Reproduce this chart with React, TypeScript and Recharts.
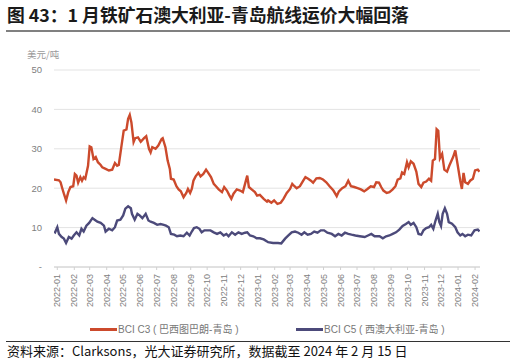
import React from "react";
import { LineChart, Line, XAxis, YAxis, CartesianGrid } from "recharts";

// BCI C3 巴西图巴朗-青岛 (美元/吨)
const c3Series: [string, number][] = [
  ["2021-12-26", 22.2], ["2022-01-04", 22.0], ["2022-01-07", 21.5], ["2022-01-10", 20.0],
  ["2022-01-13", 18.6], ["2022-01-17", 16.9], ["2022-01-21", 19.0], ["2022-01-25", 20.3],
  ["2022-01-30", 20.5], ["2022-02-02", 23.6], ["2022-02-05", 23.2], ["2022-02-08", 21.4],
  ["2022-02-12", 22.8], ["2022-02-15", 21.9], ["2022-02-18", 22.8], ["2022-02-21", 22.4],
  ["2022-02-26", 25.7], ["2022-03-01", 30.6], ["2022-03-04", 30.4], ["2022-03-08", 27.4],
  ["2022-03-12", 27.9], ["2022-03-16", 26.6], ["2022-03-21", 25.9], ["2022-03-24", 25.3],
  ["2022-03-30", 24.9], ["2022-04-05", 24.5], ["2022-04-11", 24.7], ["2022-04-16", 26.4],
  ["2022-04-20", 25.7], ["2022-04-23", 25.9], ["2022-04-28", 30.8], ["2022-05-02", 34.6],
  ["2022-05-07", 34.9], ["2022-05-10", 37.6], ["2022-05-13", 38.6], ["2022-05-16", 36.7],
  ["2022-05-20", 31.7], ["2022-05-23", 32.7], ["2022-05-28", 32.9], ["2022-06-02", 31.8],
  ["2022-06-08", 32.7], ["2022-06-12", 33.2], ["2022-06-17", 30.0], ["2022-06-20", 29.1],
  ["2022-06-23", 30.4], ["2022-06-29", 30.0], ["2022-07-04", 30.8], ["2022-07-10", 32.5],
  ["2022-07-12", 32.7], ["2022-07-17", 30.4], ["2022-07-21", 27.0], ["2022-07-25", 24.9],
  ["2022-07-27", 22.4], ["2022-08-01", 22.2], ["2022-08-06", 20.5], ["2022-08-10", 19.7],
  ["2022-08-14", 19.2], ["2022-08-19", 17.7], ["2022-08-24", 18.8], ["2022-08-27", 19.8],
  ["2022-08-31", 18.8], ["2022-09-03", 19.8], ["2022-09-06", 21.9], ["2022-09-10", 23.0],
  ["2022-09-15", 23.9], ["2022-09-19", 23.0], ["2022-09-24", 23.6], ["2022-09-29", 24.7],
  ["2022-10-03", 23.9], ["2022-10-08", 22.8], ["2022-10-13", 21.1], ["2022-10-17", 20.5],
  ["2022-10-22", 19.7], ["2022-10-28", 19.0], ["2022-11-01", 20.3], ["2022-11-06", 19.4],
  ["2022-11-10", 18.3], ["2022-11-14", 17.3], ["2022-11-18", 18.6], ["2022-11-24", 19.7],
  ["2022-11-30", 19.4], ["2022-12-05", 19.0], ["2022-12-09", 21.1], ["2022-12-13", 23.2],
  ["2022-12-16", 20.3], ["2022-12-21", 19.7], ["2022-12-27", 19.0], ["2022-12-31", 18.1],
  ["2023-01-05", 18.3], ["2023-01-12", 17.3], ["2023-01-18", 16.6], ["2023-01-20", 16.9],
  ["2023-01-26", 16.3], ["2023-01-31", 16.9], ["2023-02-06", 16.0], ["2023-02-12", 16.3],
  ["2023-02-17", 17.3], ["2023-02-23", 18.8], ["2023-03-01", 19.8], ["2023-03-05", 21.1],
  ["2023-03-09", 20.5], ["2023-03-13", 20.0], ["2023-03-19", 20.5], ["2023-03-25", 21.9],
  ["2023-03-29", 22.8], ["2023-04-03", 22.4], ["2023-04-08", 21.9], ["2023-04-12", 21.4],
  ["2023-04-18", 22.5], ["2023-04-24", 22.6], ["2023-04-30", 22.2], ["2023-05-06", 21.5],
  ["2023-05-12", 20.5], ["2023-05-19", 19.4], ["2023-05-25", 18.0], ["2023-05-29", 19.2],
  ["2023-06-04", 20.0], ["2023-06-10", 20.5], ["2023-06-15", 21.9], ["2023-06-20", 20.5],
  ["2023-06-26", 20.3], ["2023-07-02", 20.0], ["2023-07-08", 19.7], ["2023-07-14", 19.2],
  ["2023-07-20", 19.8], ["2023-07-26", 20.5], ["2023-08-01", 20.3], ["2023-08-05", 21.5],
  ["2023-08-10", 21.4], ["2023-08-14", 20.3], ["2023-08-18", 19.4], ["2023-08-24", 18.8],
  ["2023-08-29", 19.0], ["2023-09-04", 19.7], ["2023-09-09", 20.5], ["2023-09-13", 22.2],
  ["2023-09-18", 22.5], ["2023-09-21", 24.0], ["2023-09-25", 23.6], ["2023-09-30", 26.6],
  ["2023-10-03", 25.3], ["2023-10-07", 26.8], ["2023-10-12", 26.2], ["2023-10-17", 24.2],
  ["2023-10-21", 21.1], ["2023-10-26", 20.3], ["2023-10-30", 21.4], ["2023-11-04", 21.7],
  ["2023-11-09", 22.4], ["2023-11-13", 21.9], ["2023-11-16", 27.0], ["2023-11-20", 27.4],
  ["2023-11-23", 35.0], ["2023-11-26", 34.6], ["2023-11-29", 27.6], ["2023-12-03", 28.7],
  ["2023-12-07", 24.7], ["2023-12-12", 24.2], ["2023-12-16", 25.7], ["2023-12-23", 27.9],
  ["2023-12-27", 29.6], ["2023-12-31", 26.2], ["2024-01-05", 21.9], ["2024-01-08", 19.8],
  ["2024-01-11", 23.9], ["2024-01-14", 21.5], ["2024-01-19", 21.1], ["2024-01-23", 21.9],
  ["2024-01-28", 22.4], ["2024-02-01", 24.5], ["2024-02-06", 24.7], ["2024-02-09", 24.2],
];

// BCI C5 西澳大利亚-青岛 (美元/吨)
const c5Series: [string, number][] = [
  ["2021-12-26", 9.0], ["2021-12-28", 8.8], ["2022-01-01", 10.1], ["2022-01-04", 8.4],
  ["2022-01-09", 7.6], ["2022-01-13", 7.2], ["2022-01-17", 6.1], ["2022-01-22", 7.6],
  ["2022-01-27", 7.2], ["2022-01-31", 8.0], ["2022-02-05", 8.8], ["2022-02-10", 8.0],
  ["2022-02-14", 9.7], ["2022-02-18", 9.0], ["2022-02-23", 10.5], ["2022-02-28", 11.2],
  ["2022-03-06", 12.4], ["2022-03-10", 12.0], ["2022-03-15", 11.5], ["2022-03-21", 11.2],
  ["2022-03-27", 10.5], ["2022-03-30", 9.0], ["2022-04-05", 9.7], ["2022-04-11", 9.3],
  ["2022-04-16", 10.1], ["2022-04-20", 11.8], ["2022-04-26", 12.0], ["2022-05-01", 13.1],
  ["2022-05-05", 14.8], ["2022-05-10", 15.4], ["2022-05-15", 14.9], ["2022-05-17", 13.5],
  ["2022-05-22", 12.0], ["2022-05-27", 13.5], ["2022-05-31", 13.1], ["2022-06-05", 12.4],
  ["2022-06-11", 13.5], ["2022-06-16", 11.8], ["2022-06-20", 11.5], ["2022-06-26", 11.2],
  ["2022-07-02", 10.7], ["2022-07-08", 10.9], ["2022-07-14", 10.7], ["2022-07-18", 10.5],
  ["2022-07-23", 10.1], ["2022-07-27", 8.4], ["2022-08-02", 8.2], ["2022-08-07", 7.8],
  ["2022-08-13", 8.0], ["2022-08-19", 7.8], ["2022-08-25", 8.7], ["2022-08-30", 8.0],
  ["2022-09-03", 9.0], ["2022-09-07", 9.9], ["2022-09-12", 10.1], ["2022-09-17", 9.7],
  ["2022-09-21", 8.8], ["2022-09-26", 9.3], ["2022-09-30", 9.3], ["2022-10-07", 9.3],
  ["2022-10-13", 8.8], ["2022-10-19", 8.4], ["2022-10-25", 8.8], ["2022-10-31", 8.0],
  ["2022-11-05", 8.4], ["2022-11-09", 7.8], ["2022-11-15", 8.8], ["2022-11-21", 8.2],
  ["2022-11-27", 8.8], ["2022-12-03", 8.4], ["2022-12-09", 8.7], ["2022-12-13", 8.8],
  ["2022-12-18", 8.0], ["2022-12-24", 7.8], ["2022-12-30", 7.3], ["2023-01-05", 7.3],
  ["2023-01-12", 7.0], ["2023-01-18", 6.5], ["2023-01-20", 6.3], ["2023-01-29", 6.1],
  ["2023-02-07", 6.1], ["2023-02-13", 6.0], ["2023-02-20", 7.2], ["2023-02-26", 8.0],
  ["2023-03-04", 8.8], ["2023-03-10", 9.0], ["2023-03-16", 8.7], ["2023-03-22", 8.2],
  ["2023-03-27", 8.8], ["2023-04-02", 8.2], ["2023-04-08", 8.4], ["2023-04-14", 9.0],
  ["2023-04-20", 8.7], ["2023-04-26", 9.3], ["2023-05-02", 9.3], ["2023-05-08", 8.7],
  ["2023-05-16", 8.4], ["2023-05-22", 7.8], ["2023-05-28", 8.4], ["2023-06-03", 8.0],
  ["2023-06-09", 8.7], ["2023-06-15", 8.4], ["2023-06-21", 8.2], ["2023-06-28", 8.0],
  ["2023-07-06", 7.8], ["2023-07-15", 7.6], ["2023-07-21", 8.0], ["2023-07-27", 8.4],
  ["2023-08-02", 7.8], ["2023-08-05", 7.8], ["2023-08-11", 7.8], ["2023-08-17", 7.3],
  ["2023-08-23", 7.8], ["2023-08-29", 8.0], ["2023-09-04", 8.4], ["2023-09-10", 8.8],
  ["2023-09-16", 9.5], ["2023-09-22", 10.4], ["2023-09-28", 10.9], ["2023-10-03", 11.4],
  ["2023-10-07", 10.7], ["2023-10-12", 11.2], ["2023-10-17", 10.1], ["2023-10-21", 8.4],
  ["2023-10-26", 8.2], ["2023-10-30", 9.3], ["2023-11-04", 9.9], ["2023-11-09", 10.1],
  ["2023-11-13", 10.7], ["2023-11-17", 9.7], ["2023-11-21", 11.8], ["2023-11-25", 13.5],
  ["2023-11-28", 11.4], ["2023-12-01", 10.4], ["2023-12-04", 13.5], ["2023-12-08", 14.9],
  ["2023-12-12", 13.5], ["2023-12-15", 11.4], ["2023-12-21", 11.0], ["2023-12-27", 10.1],
  ["2023-12-31", 8.8], ["2024-01-05", 8.0], ["2024-01-09", 8.4], ["2024-01-14", 7.8],
  ["2024-01-19", 8.2], ["2024-01-25", 8.0], ["2024-01-31", 9.3], ["2024-02-06", 9.5],
  ["2024-02-09", 9.0],
];

const monthTicks = [
  "2022-01", "2022-02", "2022-03", "2022-04", "2022-05", "2022-06", "2022-07",
  "2022-08", "2022-09", "2022-10", "2022-11", "2022-12", "2023-01", "2023-02",
  "2023-03", "2023-04", "2023-05", "2023-06", "2023-07", "2023-08", "2023-09",
  "2023-10", "2023-11", "2023-12", "2024-01", "2024-02",
];

const yTicks = [0, 10, 20, 30, 40, 50];

const RED = "#CC4A2C";
const BLUE = "#4C4A7A";
const FONT = "'Liberation Sans', 'Noto Sans CJK SC', sans-serif";
const CJK = "'Noto Sans CJK SC', 'Liberation Sans', sans-serif";

const toTime = (d: string) => Date.parse(d + "T00:00:00Z");
const monthTime = (m: string) => toTime(m + "-01");

// merge both series on one time axis
const rows: { t: number; c3?: number; c5?: number }[] = [];
const byTime = new Map<number, { t: number; c3?: number; c5?: number }>();
c3Series.forEach(([d, v]) => {
  const t = toTime(d);
  const r = byTime.get(t) || { t };
  r.c3 = v;
  byTime.set(t, r);
});
c5Series.forEach(([d, v]) => {
  const t = toTime(d);
  const r = byTime.get(t) || { t };
  r.c5 = v;
  byTime.set(t, r);
});
byTime.forEach((r) => rows.push(r));
rows.sort((a, b) => a.t - b.t);

const fmtMonth = (t: number) => {
  const d = new Date(t);
  return `${d.getUTCFullYear()}-${String(d.getUTCMonth() + 1).padStart(2, "0")}`;
};

const MonthTick = (props: any) => {
  const { x, y, payload } = props;
  return (
    <text
      x={x}
      y={y}
      transform={`rotate(-90, ${x}, ${y})`}
      textAnchor="end"
      dy={3}
      fontSize={9}
      fill="#808080"
      fontFamily={FONT}
    >
      {fmtMonth(payload.value)}
    </text>
  );
};

const legendText = {
  position: "absolute" as const,
  top: 323,
  fontSize: 10,
  color: "#777",
  lineHeight: "14px",
  whiteSpace: "nowrap" as const,
  fontFamily: FONT,
};

export default function App() {
  return (
    <div
      style={{
        position: "absolute",
        left: 0,
        top: 0,
        width: 516,
        height: 363,
        background: "#fff",
        fontFamily: CJK,
      }}
    >
      <div
        style={{
          position: "absolute",
          left: 7,
          top: 2,
          fontSize: 17.8,
          fontWeight: 700,
          color: "#1a1a1a",
          whiteSpace: "nowrap",
          lineHeight: "24px",
        }}
      >
        图 43：1 月铁矿石澳大利亚-青岛航线运价大幅回落
      </div>
      <div style={{ position: "absolute", left: 6, top: 30, width: 504, height: 2, background: "#808080" }} />
      <div style={{ position: "absolute", left: 27, top: 48, fontSize: 9.5, color: "#999", lineHeight: "12px" }}>
        美元/吨
      </div>

      <div style={{ position: "absolute", left: 0, top: 0 }}>
        <LineChart
          width={516}
          height={320}
          data={rows}
          margin={{ top: 70, right: 36, left: 14, bottom: 8 }}
        >
          <CartesianGrid vertical={false} stroke="#e3e3e3" />
          <XAxis
            dataKey="t"
            type="number"
            scale="linear"
            domain={[toTime("2021-12-26"), toTime("2024-02-10")]}
            ticks={monthTicks.map(monthTime)}
            tick={<MonthTick />}
            tickSize={3}
            tickMargin={4}
            interval={0}
            height={45}
            stroke="#d0d0d0"
            allowDataOverflow
          />
          <YAxis
            domain={[0, 50]}
            ticks={yTicks}
            width={40}
            axisLine={false}
            tickLine={false}
            tickMargin={6}
            tick={{ fontSize: 9.5, fill: "#808080", fontFamily: FONT }}
            tickFormatter={(v: number) => (v === 0 ? "-" : String(v))}
          />
          <Line
            dataKey="c3"
            stroke={RED}
            strokeWidth={2.4}
            dot={false}
            connectNulls
            isAnimationActive={false}
          />
          <Line
            dataKey="c5"
            stroke={BLUE}
            strokeWidth={2.4}
            dot={false}
            connectNulls
            isAnimationActive={false}
          />
        </LineChart>
      </div>

      <div style={{ position: "absolute", left: 90, top: 328, width: 27, height: 3, background: RED }} />
      <div style={{ ...legendText, left: 118 }}>BCI C3 ( 巴西图巴朗-青岛 )</div>
      <div style={{ position: "absolute", left: 296, top: 328, width: 27, height: 3, background: BLUE }} />
      <div style={{ ...legendText, left: 324 }}>BCI C5 ( 西澳大利亚-青岛 )</div>

      <div style={{ position: "absolute", left: 6, top: 341, width: 504, height: 1, background: "#333" }} />
      <div
        style={{
          position: "absolute",
          left: 7,
          top: 343,
          fontSize: 13,
          color: "#111",
          whiteSpace: "nowrap",
          lineHeight: "16px",
        }}
      >
        资料来源：Clarksons，光大证券研究所，数据截至 2024 年 2 月 15 日
      </div>
    </div>
  );
}
